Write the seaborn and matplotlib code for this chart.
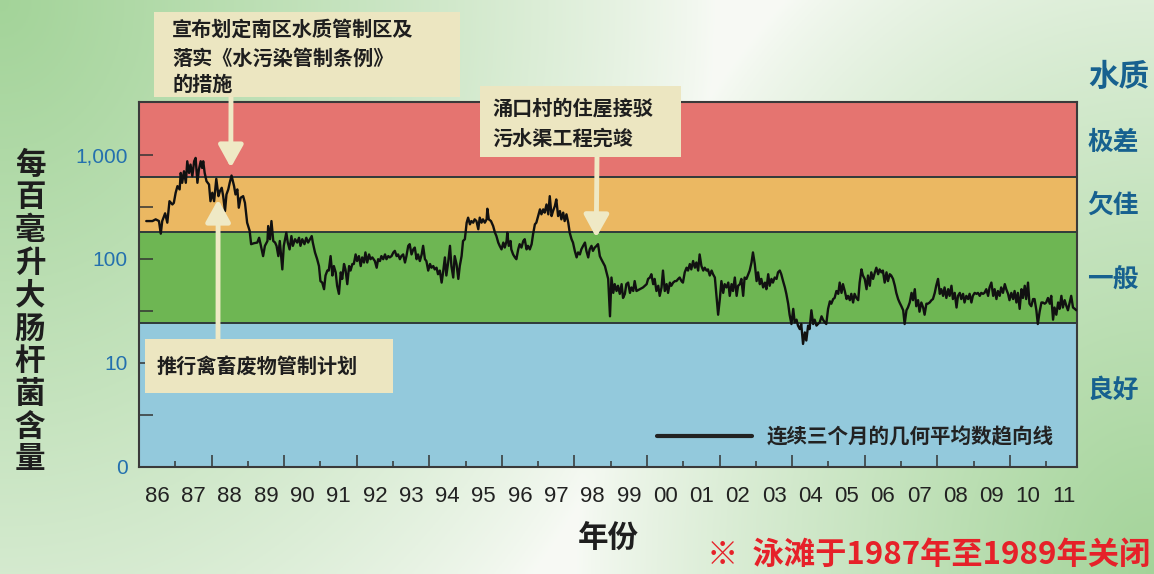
import numpy as np
import pandas as pd
import matplotlib
matplotlib.use("Agg")
import matplotlib.pyplot as plt
import seaborn as sns
from matplotlib.ticker import FixedLocator, FixedFormatter, NullFormatter
from matplotlib.patches import Rectangle
from matplotlib.lines import Line2D

# ---------------- data ----------------
year_86_92 = [1986.20, 1986.37, 1986.46, 1986.55, 1986.60, 1986.64, 1986.72, 1986.78, 1986.84, 1986.92, 1986.96,
              1987.01, 1987.06, 1987.12, 1987.15, 1987.19, 1987.24, 1987.29, 1987.33, 1987.38, 1987.42, 1987.47,
              1987.52, 1987.56, 1987.61, 1987.65, 1987.70, 1987.74, 1987.77, 1987.81, 1987.86, 1987.93, 1987.97,
              1988.02, 1988.07, 1988.13, 1988.19, 1988.23, 1988.28, 1988.32, 1988.37, 1988.41, 1988.46, 1988.50,
              1988.55, 1988.62, 1988.66, 1988.71, 1988.75, 1988.80, 1988.87, 1988.92, 1988.98,
              1989.05, 1989.09, 1989.17, 1989.26, 1989.31, 1989.35, 1989.42, 1989.47, 1989.54, 1989.56, 1989.61,
              1989.65, 1989.70, 1989.75, 1989.79, 1989.84, 1989.88, 1989.95, 1989.99,
              1990.06, 1990.10, 1990.15, 1990.20, 1990.24, 1990.30, 1990.36, 1990.41, 1990.45, 1990.50, 1990.56,
              1990.61, 1990.66, 1990.71, 1990.76, 1990.79, 1990.85, 1990.91, 1990.96,
              1991.00, 1991.05, 1991.10, 1991.14, 1991.19, 1991.23, 1991.28, 1991.33, 1991.37, 1991.42, 1991.46,
              1991.51, 1991.56, 1991.60, 1991.65, 1991.69, 1991.74, 1991.79, 1991.83, 1991.88, 1991.92, 1991.97,
              1992.01, 1992.06, 1992.11, 1992.15, 1992.20, 1992.24, 1992.29, 1992.34, 1992.38, 1992.43]
ecoli_86_92 = [230, 230, 239, 230, 174, 230, 273, 222, 357, 332, 344,
               430, 498, 463, 667, 536, 692, 536, 863, 667, 802, 620, 863, 929, 536, 718, 863, 745, 863, 667, 556, 516, 357,
               430, 357, 585, 399, 446, 480, 399, 287, 414, 463, 536, 629, 498, 414, 463, 309, 385, 399, 344, 222,
               185, 138, 141, 143, 159, 138, 106, 133, 148, 206, 154, 230, 148, 143, 133, 106, 148, 79, 133,
               178, 143, 123, 165, 133, 154, 143, 159, 133, 154, 138, 159, 143, 154, 165, 143, 115, 99, 85,
               61, 59, 51, 69, 77, 77, 106, 69, 85, 74, 55, 46, 74, 64, 89, 79, 57, 85, 77, 89, 89, 110,
               95, 106, 85, 103, 92, 115, 92, 110, 99, 103]

year_92_98 = [1992.50, 1992.55, 1992.59, 1992.64, 1992.68, 1992.73, 1992.78, 1992.82, 1992.87, 1992.91, 1992.96,
              1993.01, 1993.05, 1993.10, 1993.14, 1993.19, 1993.23, 1993.28, 1993.33, 1993.37, 1993.42, 1993.46,
              1993.51, 1993.56, 1993.60, 1993.65, 1993.69, 1993.74, 1993.79, 1993.83, 1993.88, 1993.92, 1993.97,
              1994.02, 1994.06, 1994.11, 1994.15, 1994.20, 1994.24, 1994.29, 1994.34, 1994.38, 1994.43, 1994.47,
              1994.52, 1994.57, 1994.61, 1994.66, 1994.70, 1994.75, 1994.80, 1994.84, 1994.89, 1994.93, 1994.98,
              1995.03, 1995.07, 1995.12, 1995.16, 1995.21, 1995.25, 1995.30, 1995.35, 1995.39, 1995.44, 1995.48,
              1995.53, 1995.58, 1995.60, 1995.64, 1995.70, 1995.76, 1995.81, 1995.85, 1995.90, 1995.94, 1995.99,
              1996.04, 1996.08, 1996.13, 1996.15, 1996.19, 1996.24, 1996.26, 1996.31, 1996.36, 1996.40, 1996.45,
              1996.49, 1996.54, 1996.59, 1996.63, 1996.68, 1996.72, 1996.77, 1996.82, 1996.86, 1996.91, 1996.95,
              1997.00, 1997.05, 1997.09, 1997.14, 1997.18, 1997.23, 1997.28, 1997.32, 1997.37, 1997.41, 1997.46,
              1997.50, 1997.55, 1997.60, 1997.64, 1997.69, 1997.73, 1997.78, 1997.83, 1997.87, 1997.92, 1997.96,
              1998.01, 1998.06, 1998.10, 1998.15, 1998.19, 1998.24, 1998.29, 1998.33, 1998.38, 1998.42, 1998.47,
              1998.51, 1998.56, 1998.61, 1998.65, 1998.70, 1998.74, 1998.84, 1998.93]
ecoli_92_98 = [95, 82, 99, 95, 106, 99, 110, 99, 106, 103, 106,
               115, 119, 106, 110, 99, 106, 110, 92, 106, 133, 138, 110, 123, 128, 99, 110, 95, 110, 133, 99, 95, 77,
               89, 82, 85, 79, 82, 71, 77, 59, 74, 103, 69, 92, 133, 85, 66, 106, 89, 64, 85, 106, 148, 154,
               222, 248, 214, 230, 222, 239, 230, 192, 248, 222, 239, 222, 239, 302, 239, 230, 206, 178, 165, 143, 133, 123,
               143, 128, 148, 178, 133, 148, 123, 110, 103, 99, 123, 138, 128, 148, 154, 123, 133, 123, 138, 172, 214, 222,
               257, 298, 267, 298, 277, 332, 267, 399, 257, 287, 320, 371, 257, 287, 239, 277, 230, 267, 222, 178, 154, 143,
               119, 103, 115, 110, 123, 133, 143, 119, 103, 123, 133, 119, 128, 133, 138, 106, 99, 85, 64]

year_99_05 = [1998.98,
              1999.02, 1999.07, 1999.11, 1999.16, 1999.20, 1999.25, 1999.30, 1999.34, 1999.39, 1999.43, 1999.48,
              1999.53, 1999.57, 1999.62, 1999.66, 1999.71, 1999.80, 1999.89, 1999.99,
              2000.03, 2000.08, 2000.12, 2000.17, 2000.21, 2000.26, 2000.31, 2000.35, 2000.40, 2000.44, 2000.49,
              2000.54, 2000.58, 2000.63, 2000.67, 2000.72, 2000.77, 2000.81, 2000.86, 2000.90, 2000.95, 2000.99,
              2001.04, 2001.09, 2001.13, 2001.18, 2001.22, 2001.27, 2001.32, 2001.36, 2001.41, 2001.45, 2001.50,
              2001.55, 2001.59, 2001.64, 2001.68, 2001.73, 2001.78, 2001.82, 2001.87, 2001.91, 2001.96,
              2002.01, 2002.05, 2002.10, 2002.14, 2002.19, 2002.24, 2002.28, 2002.33, 2002.37, 2002.42, 2002.47,
              2002.51, 2002.56, 2002.60, 2002.65, 2002.69, 2002.74, 2002.79, 2002.83, 2002.88, 2002.92, 2002.97,
              2003.02, 2003.06, 2003.11, 2003.15, 2003.20, 2003.25, 2003.29, 2003.34, 2003.38, 2003.43, 2003.47,
              2003.52, 2003.57, 2003.61, 2003.66, 2003.70, 2003.75, 2003.80, 2003.84, 2003.89, 2003.93, 2003.98,
              2004.03, 2004.07, 2004.12, 2004.16, 2004.21, 2004.25, 2004.30, 2004.35, 2004.39, 2004.44, 2004.48,
              2004.53, 2004.58, 2004.62, 2004.67, 2004.71, 2004.76, 2004.81, 2004.85, 2004.90, 2004.94, 2004.99,
              2005.04, 2005.08, 2005.13, 2005.17, 2005.22, 2005.27, 2005.31, 2005.36, 2005.40]
ecoli_99_05 = [28,
               66, 47, 57, 49, 55, 46, 57, 42, 46, 57, 59, 47, 53, 49, 61, 49, 51, 53, 57,
               64, 66, 71, 57, 64, 49, 55, 44, 53, 77, 49, 57, 47, 59, 55, 59, 61, 61, 64, 66, 61, 59,
               74, 82, 77, 89, 79, 95, 82, 92, 77, 110, 85, 77, 82, 77, 79, 69, 77, 71, 66, 46, 29,
               42, 61, 47, 57, 53, 59, 44, 57, 49, 66, 44, 55, 57, 64, 44, 66, 64, 71, 77, 92, 115, 89,
               61, 74, 57, 64, 53, 59, 51, 71, 55, 64, 59, 66, 64, 74, 77, 71, 61, 53, 46, 37, 29, 23.6,
               33, 24.5, 26, 22.8, 21.1, 23.6, 15.2, 19.6, 16.4, 22.8, 21.1, 32, 23.6, 26, 22.8, 23.6, 24.5, 28, 26, 24.5, 23.6, 33,
               39, 37, 41, 42, 49, 46, 59, 47, 57]

year_05_11 = [2005.45, 2005.50, 2005.54, 2005.59, 2005.63, 2005.68, 2005.72, 2005.77, 2005.82, 2005.86, 2005.91, 2005.95,
              2006.00, 2006.05, 2006.09, 2006.14, 2006.18, 2006.23, 2006.28, 2006.32, 2006.37, 2006.41, 2006.46, 2006.50,
              2006.55, 2006.60, 2006.64, 2006.69, 2006.73, 2006.78, 2006.83, 2006.87, 2006.92, 2006.96,
              2007.01, 2007.06, 2007.10, 2007.15, 2007.19, 2007.24, 2007.29, 2007.33, 2007.38, 2007.42, 2007.47, 2007.51,
              2007.56, 2007.61, 2007.65, 2007.70, 2007.74, 2007.79, 2007.84, 2007.88, 2007.93, 2007.97,
              2008.02, 2008.07, 2008.11, 2008.16, 2008.20, 2008.25, 2008.30, 2008.34, 2008.39, 2008.43, 2008.48, 2008.53,
              2008.57, 2008.62, 2008.66, 2008.71, 2008.75, 2008.80, 2008.85, 2008.89, 2008.94, 2008.98,
              2009.03, 2009.08, 2009.12, 2009.17, 2009.21, 2009.26, 2009.30, 2009.35, 2009.40, 2009.44, 2009.49, 2009.54,
              2009.58, 2009.63, 2009.67, 2009.72, 2009.76, 2009.81, 2009.86, 2009.90, 2009.95, 2009.99,
              2010.04, 2010.09, 2010.13, 2010.18, 2010.22, 2010.27, 2010.32, 2010.36, 2010.41, 2010.45, 2010.50, 2010.54,
              2010.59, 2010.64, 2010.68, 2010.73, 2010.77, 2010.82, 2010.87, 2010.91, 2010.96,
              2011.00, 2011.05, 2011.10, 2011.14, 2011.19, 2011.23, 2011.28, 2011.33, 2011.37, 2011.42, 2011.46, 2011.51,
              2011.56, 2011.60, 2011.65, 2011.69, 2011.74, 2011.79, 2011.83]
ecoli_05_11 = [49, 41, 44, 40, 46, 38, 46, 42, 40, 59, 79, 69,
               64, 51, 69, 55, 74, 64, 74, 82, 71, 79, 74, 77, 59, 74, 61, 71, 69, 64, 55, 47, 41, 38,
               35, 32, 23.6, 32, 34, 38, 47, 40, 51, 35, 40, 31, 38, 34, 29, 37, 37, 38, 40, 41, 47, 55,
               64, 46, 51, 44, 53, 42, 51, 44, 55, 41, 47, 34, 44, 47, 41, 46, 38, 44, 41, 46, 38, 44,
               47, 46, 47, 44, 47, 46, 47, 51, 44, 53, 59, 44, 51, 41, 49, 44, 53, 47, 57, 51, 46, 40,
               47, 41, 49, 38, 47, 33, 51, 42, 55, 41, 59, 37, 35, 41, 41, 32, 23.6, 31, 38, 38, 37,
               38, 42, 37, 44, 26, 34, 29, 38, 33, 44, 34, 40, 35, 32, 38, 44, 34, 33, 32]

year_labels = ["86", "87", "88", "89", "90", "91", "92", "93", "94", "95", "96", "97", "98", "99",
               "00", "01", "02", "03", "04", "05", "06", "07", "08", "09", "10", "11"]
y_ticks = [1, 10, 100, 1000]
y_tick_labels = ["0", "10", "100", "1,000"]
band_limits = [1, 24, 180, 610, 3200]
band_names = ["良好", "一般", "欠佳", "极差"]

df = pd.DataFrame({
    "year": year_86_92 + year_92_98 + year_99_05 + year_05_11,
    "ecoli": ecoli_86_92 + ecoli_92_98 + ecoli_99_05 + ecoli_05_11,
})

# ---------------- style ----------------
sns.set_theme(style="white")
plt.rcParams["font.family"] = ["Noto Sans CJK SC", "DejaVu Sans"]
CJK = ["Noto Sans CJK SC", "DejaVu Sans"]
NUM = ["Liberation Sans", "DejaVu Sans"]

W, H = 1154, 574
fig = plt.figure(figsize=(W / 100, H / 100), dpi=100)

# background gradient
bg = fig.add_axes([0, 0, 1, 1], zorder=-10)
gx, gy = np.meshgrid(np.linspace(0, 1, 400), np.linspace(0, 1, 200))
f1 = np.clip(1 - np.sqrt((gx / 0.62) ** 2 + (gy / 1.5) ** 2), 0, 1)
f2 = np.clip(1 - np.sqrt(((1 - gx) / 0.5) ** 2 + ((1 - gy) / 1.3) ** 2), 0, 1)
f = np.clip(f1 + f2, 0, 1) ** 0.8
green = np.array([0.64, 0.83, 0.60])
white = np.array([0.97, 0.98, 0.96])
img = white[None, None, :] * (1 - f[..., None]) + green[None, None, :] * f[..., None]
bg.imshow(img, aspect="auto", extent=[0, 1, 1, 0])
bg.set_axis_off()

ax = fig.add_axes([139 / W, 1 - 467 / H, (1077 - 139) / W, (467 - 102) / H])
ax.set_yscale("log")
ax.set_ylim(1, 3200)
ax.set_xlim(1986, 2011.85)

band_colors = ["#93C9DC", "#6EB653", "#EBB862", "#E57470"]
for lo, hi, c in zip(band_limits[:-1], band_limits[1:], band_colors):
    ax.axhspan(lo, hi, color=c, lw=0, zorder=0)
for v in band_limits[1:-1]:
    ax.axhline(v, color="#2f3a3a", lw=1.4, zorder=1)

sns.lineplot(data=df, x="year", y="ecoli", ax=ax, color="#111111", lw=1.7,
             estimator=None, sort=False, legend=False, zorder=5)
ax.set_xlabel("")
ax.set_ylabel("")

for s in ax.spines.values():
    s.set_visible(True)
    s.set_color("#3a3a3a")
    s.set_linewidth(1.5)

# y ticks
ax.yaxis.set_major_locator(FixedLocator(y_ticks))
ax.yaxis.set_major_formatter(FixedFormatter(y_tick_labels))
ax.yaxis.set_minor_locator(FixedLocator([10 ** 0.5, 10 ** 1.5, 10 ** 2.5]))
ax.yaxis.set_minor_formatter(NullFormatter())
ax.tick_params(axis="y", which="both", direction="in", length=10, width=1.1, color="#333333",
               left=True, right=False, labelsize=15, labelcolor="#2470AE", pad=8)
for t in ax.get_yticklabels():
    t.set_fontfamily(NUM)

# x ticks: long at even years, short at odd years, labels at mid-year
ax.xaxis.set_major_locator(FixedLocator(list(range(1988, 2012, 2))))
ax.xaxis.set_minor_locator(FixedLocator(list(range(1987, 2012, 2))))
ax.xaxis.set_major_formatter(NullFormatter())
ax.xaxis.set_minor_formatter(NullFormatter())
ax.tick_params(axis="x", which="major", direction="in", length=9, width=1.1, color="#333333", bottom=True)
ax.tick_params(axis="x", which="minor", direction="in", length=4.5, width=1.1, color="#333333", bottom=True)

sec = ax.secondary_xaxis("bottom")
sec.set_xticks([1986.5 + i for i in range(len(year_labels))], year_labels)
sec.tick_params(length=0, labelsize=16, labelcolor="#222222", pad=14)
sec.spines["bottom"].set_visible(False)
for t in sec.get_xticklabels():
    t.set_fontfamily(NUM)

# legend
proxy = Line2D([], [], color="#222222", lw=3)
leg = ax.legend([proxy], ["连续三个月的几何平均数趋向线"], loc="center left",
                bbox_to_anchor=(657 / W, 1 - 437 / H), bbox_transform=fig.transFigure,
                frameon=False, borderpad=0, borderaxespad=0, handlelength=4.6, handletextpad=0.75,
                prop={"family": CJK, "weight": "bold", "size": 14.8})
for t in leg.get_texts():
    t.set_color("#222222")

# annotation boxes
box_c = "#ECE6C1"
arrow_c = "#EFE9C5"
boxes = [(154, 12, 306, 85), (480, 86, 201, 71), (145, 339, 248, 54)]
for (bx, by, bw, bh) in boxes:
    fig.patches.append(Rectangle((bx / W, 1 - (by + bh) / H), bw / W, bh / H,
                                 transform=fig.transFigure, facecolor=box_c, edgecolor="none", zorder=3))

txt_kw = dict(family=CJK, weight="bold", color="#1e1e1e", fontsize=14.5, va="center", ha="left", zorder=4)
fig.text(172 / W, 1 - 29 / H, "宣布划定南区水质管制区及", **txt_kw)
fig.text(172 / W, 1 - 58 / H, "落实《水污染管制条例》", **txt_kw)
fig.text(172 / W, 1 - 84 / H, "的措施", **txt_kw)
fig.text(492 / W, 1 - 108 / H, "涌口村的住屋接驳", **txt_kw)
fig.text(492 / W, 1 - 138 / H, "污水渠工程完竣", **txt_kw)
fig.text(157 / W, 1 - 366 / H, "推行禽畜废物管制计划", **txt_kw)

arrow_props = dict(arrowstyle="-|>,head_length=1.35,head_width=0.75", color=arrow_c, lw=3.5,
                   shrinkA=0, shrinkB=0, mutation_scale=10)
arrows = [((1988.53, 750), (231, H - 97)), ((1998.6, 160), (597, H - 157)), ((1988.18, 371), (218, H - 339))]
for xy, xyt in arrows:
    a = ax.annotate("", xy=xy, xycoords="data", xytext=xyt, textcoords="figure pixels",
                    arrowprops=arrow_props, annotation_clip=False, zorder=6)
    a.arrow_patch.set_clip_on(False)

# axis titles
ylab = "每百毫升大肠杆菌含量"
fig.text(30 / W, 1 - 312 / H, "\n".join(ylab), family=CJK, weight="bold", fontsize=22,
         color="#1e1e1e", ha="center", va="center", linespacing=1.03)
fig.text(608 / W, 1 - 538 / H, "年份", family=CJK, weight="bold", fontsize=22,
         color="#1e1e1e", ha="center", va="center")

# right-hand quality labels
qcol = "#17618F"
fig.text(1119 / W, 1 - 77 / H, "水质", family=CJK, weight="bold", fontsize=22, color=qcol,
         ha="center", va="center")
for name, yy in zip(band_names, [390, 280, 205, 142]):
    fig.text(1113 / W, 1 - yy / H, name, family=CJK, weight="bold", fontsize=18.5, color=qcol,
             ha="center", va="center")

fig.text(1150 / W, 1 - 555 / H, "※  泳滩于1987年至1989年关闭", family=CJK, weight="bold",
         fontsize=22.5, color="#E62129", ha="right", va="center")

fig.savefig("out.png", dpi=100)
